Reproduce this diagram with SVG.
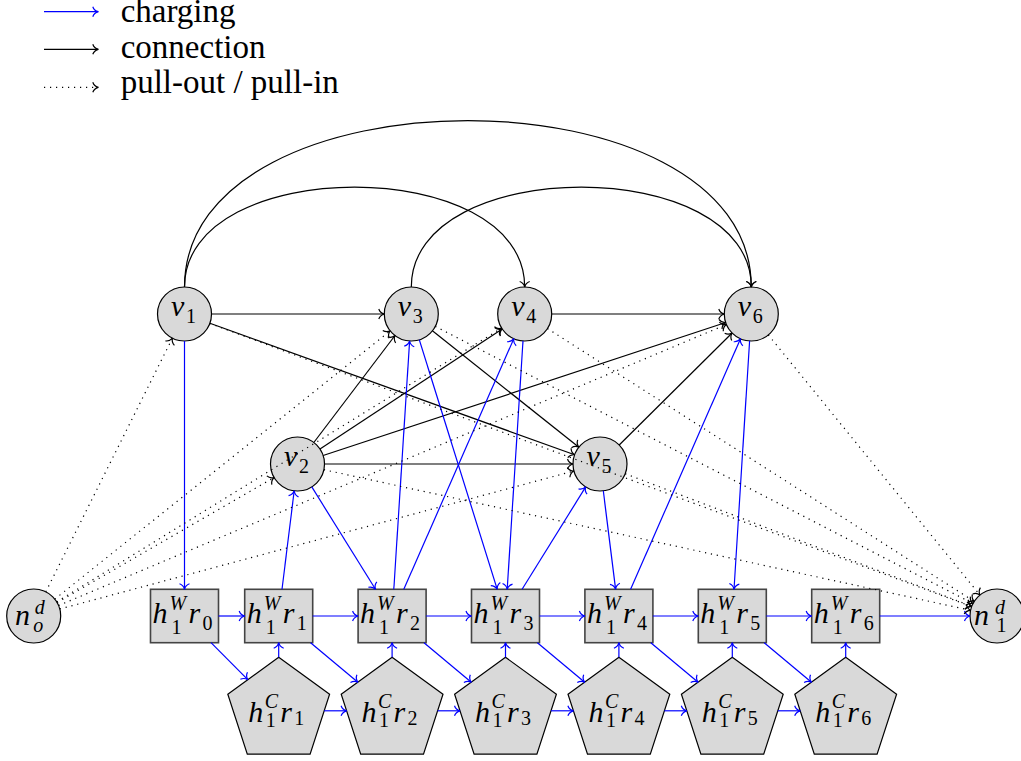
<svg xmlns="http://www.w3.org/2000/svg" xmlns:xlink="http://www.w3.org/1999/xlink" width="1021" height="761" viewBox="0 0 1021 761">
  <style>
    .e { fill: none; stroke-width: 1.2; }
    .k { stroke: #000; marker-end: url(#tipK); }
    .b { stroke: #0000ff; marker-end: url(#tipB); }
    .d { stroke: #000; stroke-dasharray: 1.2 4.8; marker-end: url(#tipK); }
    .circ { fill: #d9d9d9; stroke: #000; stroke-width: 1.2; }
    .box { fill: #d9d9d9; stroke: #444; stroke-width: 1.6; }
    .pent { fill: #d9d9d9; stroke: #000; stroke-width: 1.2; }
    .m { font-family: 'Liberation Serif', serif; font-style: italic; font-size: 30px; fill: #000; }
    .s { font-size: 20px; }
    .up { font-style: normal; }
    .lg { font-family: 'Liberation Serif', serif; font-size: 33px; fill: #000; }
  </style>
  <defs>
    <marker id="tipK" markerUnits="userSpaceOnUse" markerWidth="14" markerHeight="14" viewBox="-7 -7 14 14" refX="0" refY="0" orient="auto" overflow="visible">
      <path d="M-5.5,-5 C-4.5,-2 -2,-0.5 0,0 C-2,0.5 -4.5,2 -5.5,5" fill="none" stroke="#000" stroke-width="1.2"/>
    </marker>
    <marker id="tipB" markerUnits="userSpaceOnUse" markerWidth="14" markerHeight="14" viewBox="-7 -7 14 14" refX="0" refY="0" orient="auto" overflow="visible">
      <path d="M-5.5,-5 C-4.5,-2 -2,-0.5 0,0 C-2,0.5 -4.5,2 -5.5,5" fill="none" stroke="#0000ff" stroke-width="1.2"/>
    </marker>
    <polygon id="pent" class="pent" points="0,-53.5 50.9,-16.5 31.4,43.3 -31.4,43.3 -50.9,-16.5"/>
  </defs>

  <!-- legend -->
  <g id="legend">
    <line class="e b" x1="44" y1="11.7" x2="98.3" y2="11.7"/>
    <line class="e k" x1="44" y1="49.3" x2="98.3" y2="49.3"/>
    <line class="e d" x1="44" y1="87.3" x2="98.3" y2="87.3"/>
    <text class="lg" x="120.7" y="22">charging</text>
    <text class="lg" x="120.7" y="58">connection</text>
    <text class="lg" x="120.7" y="93">pull-out / pull-in</text>
  </g>

  <!-- vertex nodes -->
  <g id="v1">
    <circle class="circ" cx="184.5" cy="314" r="27"/>
    <text class="m"><tspan x="171" y="315.5">v</tspan><tspan class="s up" x="186" y="323">1</tspan></text>
  </g>
  <g id="v3">
    <circle class="circ" cx="411.3" cy="314" r="27"/>
    <text class="m"><tspan x="397.8" y="315.5">v</tspan><tspan class="s up" x="412.8" y="323">3</tspan></text>
  </g>
  <g id="v4">
    <circle class="circ" cx="524.7" cy="314" r="27"/>
    <text class="m"><tspan x="511.2" y="315.5">v</tspan><tspan class="s up" x="526.2" y="323">4</tspan></text>
  </g>
  <g id="v6">
    <circle class="circ" cx="751.3" cy="314" r="27"/>
    <text class="m"><tspan x="737.8" y="315.5">v</tspan><tspan class="s up" x="752.8" y="323">6</tspan></text>
  </g>
  <g id="v2">
    <circle class="circ" cx="297.5" cy="464" r="27"/>
    <text class="m"><tspan x="284" y="465.5">v</tspan><tspan class="s up" x="299" y="473">2</tspan></text>
  </g>
  <g id="v5">
    <circle class="circ" cx="600" cy="464" r="27"/>
    <text class="m"><tspan x="586.5" y="465.5">v</tspan><tspan class="s up" x="601.5" y="473">5</tspan></text>
  </g>

  <!-- depot nodes -->
  <g id="n_o">
    <circle class="circ" cx="33.7" cy="616" r="27"/>
    <text class="m"><tspan x="15" y="625">n</tspan><tspan class="s" x="34.7" y="614">d</tspan><tspan class="s" x="33.2" y="632">o</tspan></text>
  </g>
  <g id="n_1">
    <circle class="circ" cx="997" cy="616" r="27"/>
    <text class="m"><tspan x="974" y="625">n</tspan><tspan class="s" x="995" y="614">d</tspan><tspan class="s up" x="996.5" y="632">1</tspan></text>
  </g>

  <!-- waiting-at-hub nodes -->
  <g id="hW0">
    <rect class="box" x="150.5" y="589.3" width="68" height="53.4"/>
    <text class="m"><tspan x="152.5" y="623">h</tspan><tspan class="s" x="169.5" y="610">W</tspan><tspan class="s up" x="171.5" y="634">1</tspan><tspan x="188.5" y="623">r</tspan><tspan class="s up" x="202.5" y="630">0</tspan></text>
  </g>
  <g id="hW1">
    <rect class="box" x="244.7" y="589.3" width="68" height="53.4"/>
    <text class="m"><tspan x="246.7" y="623">h</tspan><tspan class="s" x="263.7" y="610">W</tspan><tspan class="s up" x="265.7" y="634">1</tspan><tspan x="282.7" y="623">r</tspan><tspan class="s up" x="296.7" y="630">1</tspan></text>
  </g>
  <g id="hW2">
    <rect class="box" x="358.1" y="589.3" width="68" height="53.4"/>
    <text class="m"><tspan x="360.1" y="623">h</tspan><tspan class="s" x="377.1" y="610">W</tspan><tspan class="s up" x="379.1" y="634">1</tspan><tspan x="396.1" y="623">r</tspan><tspan class="s up" x="410.1" y="630">2</tspan></text>
  </g>
  <g id="hW3">
    <rect class="box" x="471.5" y="589.3" width="68" height="53.4"/>
    <text class="m"><tspan x="473.5" y="623">h</tspan><tspan class="s" x="490.5" y="610">W</tspan><tspan class="s up" x="492.5" y="634">1</tspan><tspan x="509.5" y="623">r</tspan><tspan class="s up" x="523.5" y="630">3</tspan></text>
  </g>
  <g id="hW4">
    <rect class="box" x="584.9" y="589.3" width="68" height="53.4"/>
    <text class="m"><tspan x="586.9" y="623">h</tspan><tspan class="s" x="603.9" y="610">W</tspan><tspan class="s up" x="605.9" y="634">1</tspan><tspan x="622.9" y="623">r</tspan><tspan class="s up" x="636.9" y="630">4</tspan></text>
  </g>
  <g id="hW5">
    <rect class="box" x="698.3" y="589.3" width="68" height="53.4"/>
    <text class="m"><tspan x="700.3" y="623">h</tspan><tspan class="s" x="717.3" y="610">W</tspan><tspan class="s up" x="719.3" y="634">1</tspan><tspan x="736.3" y="623">r</tspan><tspan class="s up" x="750.3" y="630">5</tspan></text>
  </g>
  <g id="hW6">
    <rect class="box" x="811.7" y="589.3" width="68" height="53.4"/>
    <text class="m"><tspan x="813.7" y="623">h</tspan><tspan class="s" x="830.7" y="610">W</tspan><tspan class="s up" x="832.7" y="634">1</tspan><tspan x="849.7" y="623">r</tspan><tspan class="s up" x="863.7" y="630">6</tspan></text>
  </g>

  <!-- charging-at-hub nodes -->
  <g id="hC1">
    <use xlink:href="#pent" href="#pent" transform="translate(278.7,710.8)"/>
    <text class="m"><tspan x="248.2" y="721.5">h</tspan><tspan class="s" x="264.7" y="708">C</tspan><tspan class="s up" x="265.7" y="727">1</tspan><tspan x="280.2" y="721.5">r</tspan><tspan class="s up" x="294.2" y="725">1</tspan></text>
  </g>
  <g id="hC2">
    <use xlink:href="#pent" href="#pent" transform="translate(392.1,710.8)"/>
    <text class="m"><tspan x="361.6" y="721.5">h</tspan><tspan class="s" x="378.1" y="708">C</tspan><tspan class="s up" x="379.1" y="727">1</tspan><tspan x="393.6" y="721.5">r</tspan><tspan class="s up" x="407.6" y="725">2</tspan></text>
  </g>
  <g id="hC3">
    <use xlink:href="#pent" href="#pent" transform="translate(505.5,710.8)"/>
    <text class="m"><tspan x="475" y="721.5">h</tspan><tspan class="s" x="491.5" y="708">C</tspan><tspan class="s up" x="492.5" y="727">1</tspan><tspan x="507" y="721.5">r</tspan><tspan class="s up" x="521" y="725">3</tspan></text>
  </g>
  <g id="hC4">
    <use xlink:href="#pent" href="#pent" transform="translate(618.9,710.8)"/>
    <text class="m"><tspan x="588.4" y="721.5">h</tspan><tspan class="s" x="604.9" y="708">C</tspan><tspan class="s up" x="605.9" y="727">1</tspan><tspan x="620.4" y="721.5">r</tspan><tspan class="s up" x="634.4" y="725">4</tspan></text>
  </g>
  <g id="hC5">
    <use xlink:href="#pent" href="#pent" transform="translate(732.3,710.8)"/>
    <text class="m"><tspan x="701.8" y="721.5">h</tspan><tspan class="s" x="718.3" y="708">C</tspan><tspan class="s up" x="719.3" y="727">1</tspan><tspan x="733.8" y="721.5">r</tspan><tspan class="s up" x="747.8" y="725">5</tspan></text>
  </g>
  <g id="hC6">
    <use xlink:href="#pent" href="#pent" transform="translate(845.7,710.8)"/>
    <text class="m"><tspan x="815.2" y="721.5">h</tspan><tspan class="s" x="831.7" y="708">C</tspan><tspan class="s up" x="832.7" y="727">1</tspan><tspan x="847.2" y="721.5">r</tspan><tspan class="s up" x="861.2" y="725">6</tspan></text>
  </g>

  <!-- edges -->
  <g id="connectors">
    <!-- connections -->
    <line class="e k" x1="211.5" y1="314" x2="384.3" y2="314"/>
    <line class="e k" x1="551.7" y1="314" x2="724.3" y2="314"/>
    <line class="e k" x1="209.9" y1="323.2" x2="574.6" y2="454.8"/>
    <line class="e k" x1="432.4" y1="330.8" x2="578.9" y2="447.2"/>
    <line class="e k" x1="313.8" y1="442.5" x2="395" y2="335.5"/>
    <line class="e k" x1="320" y1="449.1" x2="502.2" y2="328.9"/>
    <line class="e k" x1="323.1" y1="455.5" x2="725.7" y2="322.5"/>
    <line class="e k" x1="324.5" y1="464" x2="573" y2="464"/>
    <line class="e k" x1="619.2" y1="445" x2="732.1" y2="333"/>
    <path class="e k" d="M184.5,287 C184.5,153.8 524.7,153.8 524.7,287"/>
    <path class="e k" d="M184.5,287 C184.5,65.1 751.3,65.1 751.3,287"/>
    <path class="e k" d="M411.3,287 C411.3,153.9 751.3,153.9 751.3,287"/>

    <!-- charging -->
    <line class="e b" x1="184.5" y1="341" x2="184.5" y2="589.3"/>
    <line class="e b" x1="218.5" y1="616" x2="244.7" y2="616"/>
    <line class="e b" x1="312.7" y1="616" x2="358.1" y2="616"/>
    <line class="e b" x1="426.1" y1="616" x2="471.5" y2="616"/>
    <line class="e b" x1="539.5" y1="616" x2="584.9" y2="616"/>
    <line class="e b" x1="652.9" y1="616" x2="698.3" y2="616"/>
    <line class="e b" x1="766.3" y1="616" x2="811.7" y2="616"/>
    <line class="e b" x1="879.7" y1="616" x2="970" y2="616"/>

    <line class="e b" x1="211" y1="642.7" x2="247.8" y2="679.7"/>
    <line class="e b" x1="310.6" y1="642.7" x2="357.9" y2="682.2"/>
    <line class="e b" x1="424" y1="642.7" x2="471.3" y2="682.2"/>
    <line class="e b" x1="537.4" y1="642.7" x2="584.7" y2="682.2"/>
    <line class="e b" x1="650.8" y1="642.7" x2="698.1" y2="682.2"/>
    <line class="e b" x1="764.2" y1="642.7" x2="811.5" y2="682.2"/>

    <line class="e b" x1="278.7" y1="657.3" x2="278.7" y2="642.7"/>
    <line class="e b" x1="392.1" y1="657.3" x2="392.1" y2="642.7"/>
    <line class="e b" x1="505.5" y1="657.3" x2="505.5" y2="642.7"/>
    <line class="e b" x1="618.9" y1="657.3" x2="618.9" y2="642.7"/>
    <line class="e b" x1="732.3" y1="657.3" x2="732.3" y2="642.7"/>
    <line class="e b" x1="845.7" y1="657.3" x2="845.7" y2="642.7"/>

    <line class="e b" x1="324.2" y1="710.8" x2="346.6" y2="710.8"/>
    <line class="e b" x1="437.6" y1="710.8" x2="460" y2="710.8"/>
    <line class="e b" x1="551" y1="710.8" x2="573.4" y2="710.8"/>
    <line class="e b" x1="664.4" y1="710.8" x2="686.8" y2="710.8"/>
    <line class="e b" x1="777.8" y1="710.8" x2="800.2" y2="710.8"/>

    <line class="e b" x1="282" y1="589.3" x2="294.2" y2="490.8"/>
    <line class="e b" x1="311.8" y1="486.9" x2="375.5" y2="589.3"/>
    <line class="e b" x1="393.8" y1="589.3" x2="409.6" y2="341"/>
    <line class="e b" x1="403.8" y1="589.3" x2="513.8" y2="338.7"/>
    <line class="e b" x1="419.3" y1="339.8" x2="497.2" y2="589.3"/>
    <line class="e b" x1="523" y1="340.9" x2="507.2" y2="589.3"/>
    <line class="e b" x1="522.1" y1="589.3" x2="585.7" y2="486.9"/>
    <line class="e b" x1="603.3" y1="490.8" x2="615.6" y2="589.3"/>
    <line class="e b" x1="630.6" y1="589.3" x2="740.5" y2="338.7"/>
    <line class="e b" x1="749.6" y1="340.9" x2="734" y2="589.3"/>

    <!-- pull-out -->
    <line class="e d" x1="45.8" y1="591.8" x2="172.4" y2="338.2"/>
    <line class="e d" x1="57.1" y1="602.5" x2="274.1" y2="477.5"/>
    <line class="e d" x1="54.8" y1="599.1" x2="390.2" y2="330.9"/>
    <line class="e d" x1="56.7" y1="601.9" x2="501.7" y2="328.1"/>
    <line class="e d" x1="59.8" y1="609" x2="573.9" y2="471"/>
    <line class="e d" x1="58.6" y1="605.5" x2="726.4" y2="324.5"/>

    <!-- pull-in -->
    <line class="e d" x1="209.8" y1="323.4" x2="971.7" y2="606.6"/>
    <line class="e d" x1="323.9" y1="469.7" x2="970.6" y2="610.3"/>
    <line class="e d" x1="435.3" y1="326.4" x2="973" y2="603.6"/>
    <line class="e d" x1="547.4" y1="328.5" x2="974.3" y2="601.5"/>
    <line class="e d" x1="625.2" y1="473.7" x2="971.8" y2="606.3"/>
    <line class="e d" x1="768.3" y1="334.9" x2="980" y2="595.1"/>
  </g>
</svg>
